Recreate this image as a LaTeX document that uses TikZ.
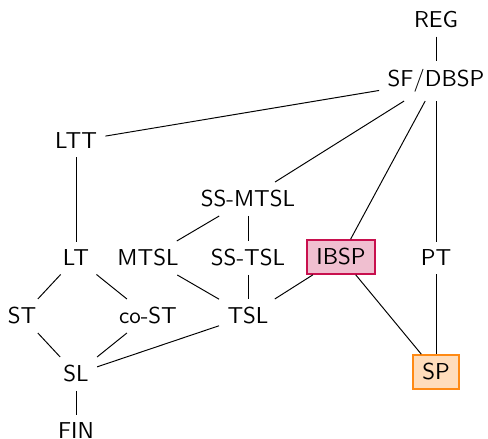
\documentclass[tikz,border=0pt]{standalone}
\usepackage{tikz}
\definecolor{ibspfill}{HTML}{F0BFD0}
\definecolor{ibspdraw}{HTML}{C8104E}
\definecolor{spfill}{HTML}{FFDDBB}
\definecolor{spdraw}{HTML}{FF8A14}
\begin{document}
\begin{tikzpicture}[x=0.4348pt,y=-0.4348pt,
  lang/.style={inner sep=3.5pt, font=\sffamily\fontsize{10}{12}\selectfont},
  hlbox/.style={lang, line width=0.9pt, inner xsep=4.2pt, inner ysep=3.6pt},
  edge/.style={line width=0.42pt, black}]
\useasboundingbox (0,0) rectangle (488,439);
\node[lang] (reg) at (436,20) {REG};
\node[lang] (sf) at (436,81) {SF/DBSP};
\node[lang] (ltt) at (76,141) {LTT};
\node[lang] (ssmtsl) at (248,199) {SS-MTSL};
\node[lang] (lt) at (76,258) {LT};
\node[lang] (mtsl) at (148,258) {MTSL};
\node[lang] (sstsl) at (248,258) {SS-TSL};
\node[hlbox, draw=ibspdraw, fill=ibspfill] (ibsp) at (341,257) {IBSP};
\node[lang] (pt) at (436,258) {PT};
\node[lang] (st) at (22,316) {ST};
\node[lang] (cost) at (148,316) {co-ST};
\node[lang] (tsl) at (248,316) {TSL};
\node[lang] (sl) at (76,374) {SL};
\node[hlbox, draw=spdraw, fill=spfill] (sp) at (436,372) {SP};
\node[lang] (fin) at (76,431) {FIN};
\draw[edge] (reg) -- (sf);
\draw[edge] (sf) -- (ltt);
\draw[edge] (sf) -- (ssmtsl);
\draw[edge] (sf) -- (ibsp);
\draw[edge] (sf) -- (pt);
\draw[edge] (ltt) -- (lt);
\draw[edge] (ssmtsl) -- (mtsl);
\draw[edge] (ssmtsl) -- (sstsl);
\draw[edge] (lt) -- (st);
\draw[edge] (lt) -- (cost);
\draw[edge] (mtsl) -- (tsl);
\draw[edge] (sstsl) -- (tsl);
\draw[edge] (ibsp) -- (tsl);
\draw[edge] (st) -- (sl);
\draw[edge] (cost) -- (sl);
\draw[edge] (tsl) -- (sl);
\draw[edge] (sl) -- (fin);
\draw[edge] (ibsp) -- (sp);
\draw[edge] (pt) -- (sp);
\end{tikzpicture}
\end{document}
